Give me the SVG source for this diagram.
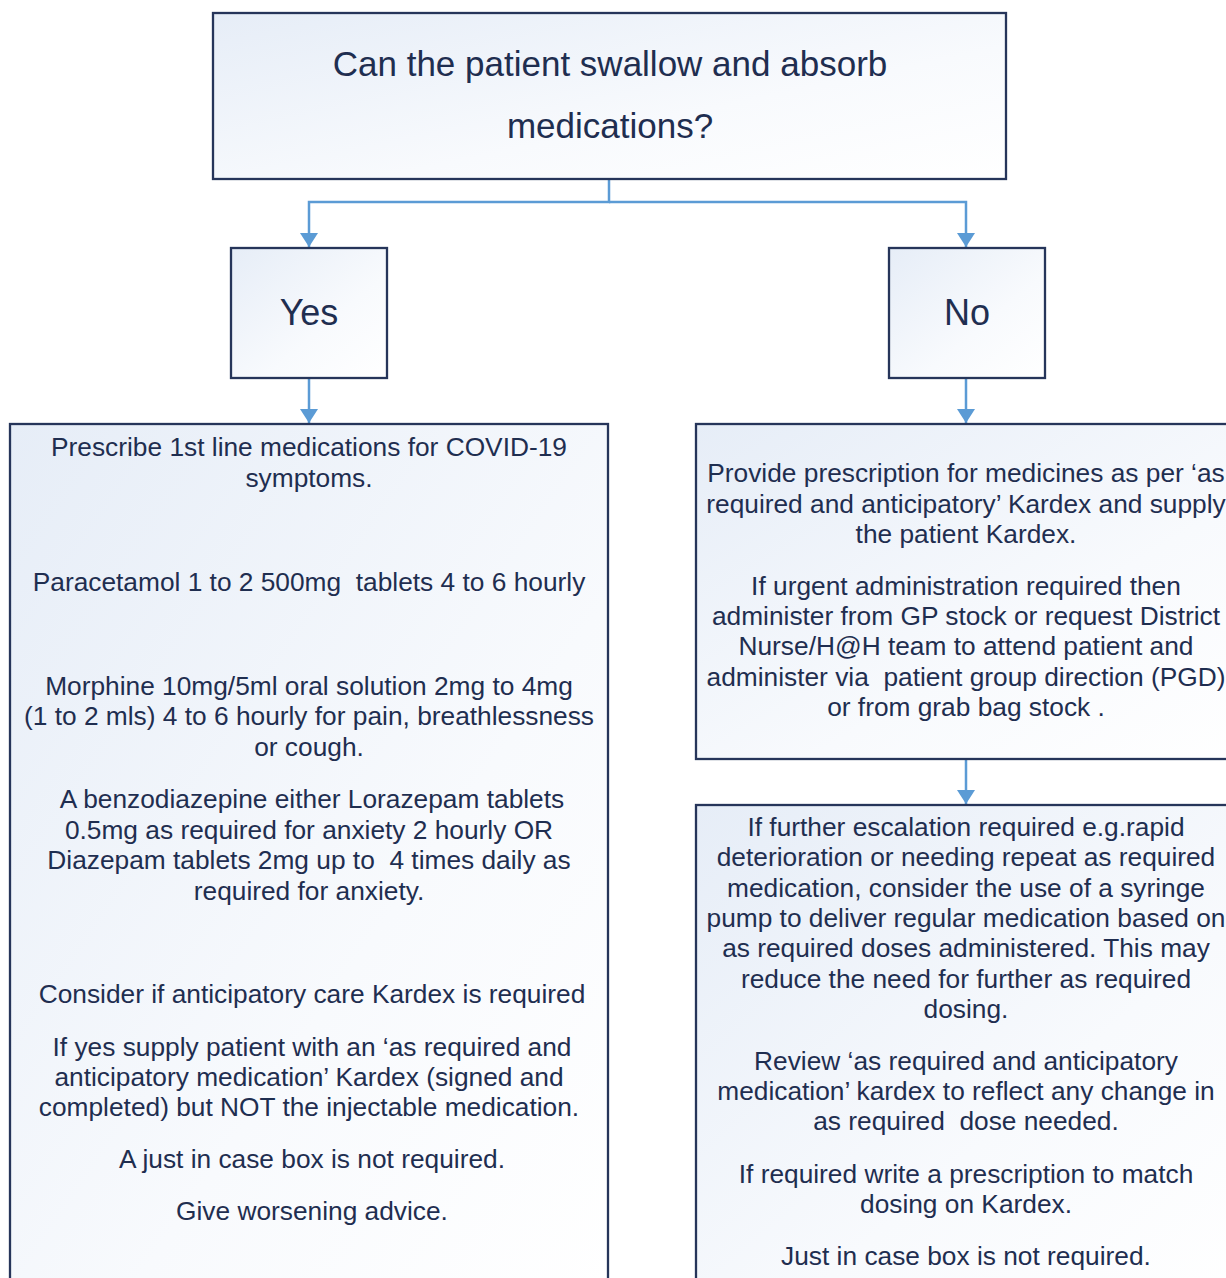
<svg xmlns="http://www.w3.org/2000/svg" width="1226" height="1278" viewBox="0 0 1226 1278">
<defs>
<linearGradient id="g" x1="0" y1="0" x2="1" y2="1">
<stop offset="0" stop-color="#e6edf7"/>
<stop offset="0.6" stop-color="#f8fafd"/>
<stop offset="1" stop-color="#ffffff"/>
</linearGradient>
<marker id="arr" viewBox="0 0 14 18" refX="14" refY="9" markerWidth="14" markerHeight="18" markerUnits="userSpaceOnUse" orient="auto">
<path d="M0,0 L14,9 L0,18 z" fill="#5b9bd5"/>
</marker>
</defs>
<style>
.box{fill:url(#g);stroke:#26355a;stroke-width:2.3}
.t{font-family:"Liberation Sans",Arial,sans-serif;fill:#1f2e50;text-anchor:middle;white-space:pre}
.b{font-size:26.3px}
.h{font-size:35px}
.y{font-size:36px}
.c{fill:none;stroke:#5b9bd5;stroke-width:2.5}
</style>
<rect width="1226" height="1278" fill="#ffffff"/>
<g id="connectors">
<path class="c" d="M609,179 V202 H309 V247" marker-end="url(#arr)"/>
<path class="c" d="M609,202 H966 V247" marker-end="url(#arr)"/>
<path class="c" d="M309,378 V423" marker-end="url(#arr)"/>
<path class="c" d="M966,378 V423" marker-end="url(#arr)"/>
<path class="c" d="M966,759 V804" marker-end="url(#arr)"/>
</g>
<g id="question">
<rect class="box" x="213" y="13" width="793" height="166"/>
<text class="t h" x="610" y="76">Can the patient swallow and absorb</text>
<text class="t h" x="610" y="138">medications?</text>
</g>
<g id="yes">
<rect class="box" x="231" y="248" width="156" height="130"/>
<text class="t y" x="309" y="325">Yes</text>
</g>
<g id="no">
<rect class="box" x="889" y="248" width="156" height="130"/>
<text class="t y" x="967" y="325">No</text>
</g>
<g id="yes-actions">
<rect class="box" x="10" y="424" width="598" height="870"/>
<text class="t b" x="309" y="456">Prescribe 1st line medications for COVID-19</text>
<text class="t b" x="309" y="487">symptoms.</text>
<text class="t b" x="309" y="591">Paracetamol 1 to 2 500mg  tablets 4 to 6 hourly</text>
<text class="t b" x="309" y="695">Morphine 10mg/5ml oral solution 2mg to 4mg</text>
<text class="t b" x="309" y="725">(1 to 2 mls) 4 to 6 hourly for pain, breathlessness</text>
<text class="t b" x="309" y="756">or cough.</text>
<text class="t b" x="312" y="808">A benzodiazepine either Lorazepam tablets</text>
<text class="t b" x="309" y="839">0.5mg as required for anxiety 2 hourly OR</text>
<text class="t b" x="309" y="869">Diazepam tablets 2mg up to  4 times daily as</text>
<text class="t b" x="309" y="900">required for anxiety.</text>
<text class="t b" x="312" y="1003">Consider if anticipatory care Kardex is required</text>
<text class="t b" x="312" y="1056">If yes supply patient with an ‘as required and</text>
<text class="t b" x="309" y="1086">anticipatory medication’ Kardex (signed and</text>
<text class="t b" x="309" y="1116">completed) but NOT the injectable medication.</text>
<text class="t b" x="312" y="1168">A just in case box is not required.</text>
<text class="t b" x="312" y="1220">Give worsening advice.</text>
</g>
<g id="no-actions">
<rect class="box" x="696" y="424" width="560" height="335"/>
<text class="t b" x="966" y="482">Provide prescription for medicines as per ‘as</text>
<text class="t b" x="966" y="513">required and anticipatory’ Kardex and supply</text>
<text class="t b" x="966" y="543">the patient Kardex.</text>
<text class="t b" x="966" y="595">If urgent administration required then</text>
<text class="t b" x="966" y="625">administer from GP stock or request District</text>
<text class="t b" x="966" y="655">Nurse/H@H team to attend patient and</text>
<text class="t b" x="966" y="686">administer via  patient group direction (PGD)</text>
<text class="t b" x="966" y="716">or from grab bag stock .</text>
</g>
<g id="escalation">
<rect class="box" x="696" y="805" width="560" height="490"/>
<text class="t b" x="966" y="836">If further escalation required e.g.rapid</text>
<text class="t b" x="966" y="866">deterioration or needing repeat as required</text>
<text class="t b" x="966" y="897">medication, consider the use of a syringe</text>
<text class="t b" x="966" y="927">pump to deliver regular medication based on</text>
<text class="t b" x="966" y="957">as required doses administered. This may</text>
<text class="t b" x="966" y="988">reduce the need for further as required</text>
<text class="t b" x="966" y="1018">dosing.</text>
<text class="t b" x="966" y="1070">Review ‘as required and anticipatory</text>
<text class="t b" x="966" y="1100">medication’ kardex to reflect any change in</text>
<text class="t b" x="966" y="1130">as required  dose needed.</text>
<text class="t b" x="966" y="1183">If required write a prescription to match</text>
<text class="t b" x="966" y="1213">dosing on Kardex.</text>
<text class="t b" x="966" y="1265">Just in case box is not required.</text>
</g>
</svg>
